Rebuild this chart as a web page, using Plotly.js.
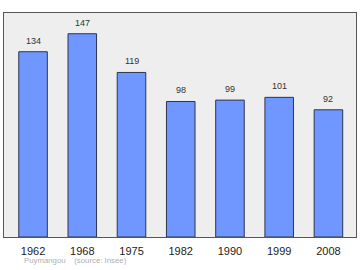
<!DOCTYPE html>
<html><head><meta charset="utf-8">
<script src="https://cdn.plot.ly/plotly-3.0.1.min.js"></script>
<style>html,body{margin:0;padding:0;background:#fff;}#c{width:360px;height:270px;}</style>
</head><body><div id="c"></div>
<script>
const years = ["1962","1968","1975","1982","1990","1999","2008"];
const population = [134,147,119,98,99,101,92];
const footer = "Puymangou    (source: Insee)";

const L = 4, R = 356, T = 13, B = 237;
const idx = years.map((_, i) => i);
const labelAnn = population.map((v, i) => ({
  x: i, y: v, xref: 'x', yref: 'y', text: String(v), showarrow: false,
  yanchor: 'bottom', yshift: 4,
  font: {family: 'Liberation Sans, Arial', size: 9, color: '#333'}
}));
Plotly.newPlot('c', [{
  type: 'bar',
  x: idx,
  y: population,
  width: 0.58,
  marker: {color: '#7097ff', line: {color: '#2e3450', width: 1}},
  hoverinfo: 'none'
}], {
  width: 360, height: 270,
  margin: {l: L, r: 360 - R, t: T, b: 270 - B, pad: 0},
  paper_bgcolor: '#ffffff',
  plot_bgcolor: '#eeeeee',
  showlegend: false,
  xaxis: {
    range: [-0.59, 6.56],
    tickmode: 'array', tickvals: idx, ticktext: years,
    ticks: 'outside', ticklen: 4, tickcolor: 'rgba(0,0,0,0)', showgrid: false, zeroline: false,
    showline: true, linecolor: '#555', linewidth: 1, mirror: true,
    tickfont: {family: 'Liberation Sans, Arial', size: 11, color: '#222'},
    fixedrange: true
  },
  yaxis: {
    range: [0, 162],
    showticklabels: false, ticks: '', showgrid: false, zeroline: false,
    showline: true, linecolor: '#555', linewidth: 1, mirror: true,
    fixedrange: true
  },
  annotations: labelAnn.concat([{
    text: footer, xref: 'paper', yref: 'paper', x: 17.5 / 352, y: -0.105,
    xanchor: 'left', yanchor: 'middle', showarrow: false,
    font: {family: 'Liberation Sans, Arial', size: 7.8, color: '#b0b0b0'}
  }])
}, {staticPlot: true});
</script></body></html>
